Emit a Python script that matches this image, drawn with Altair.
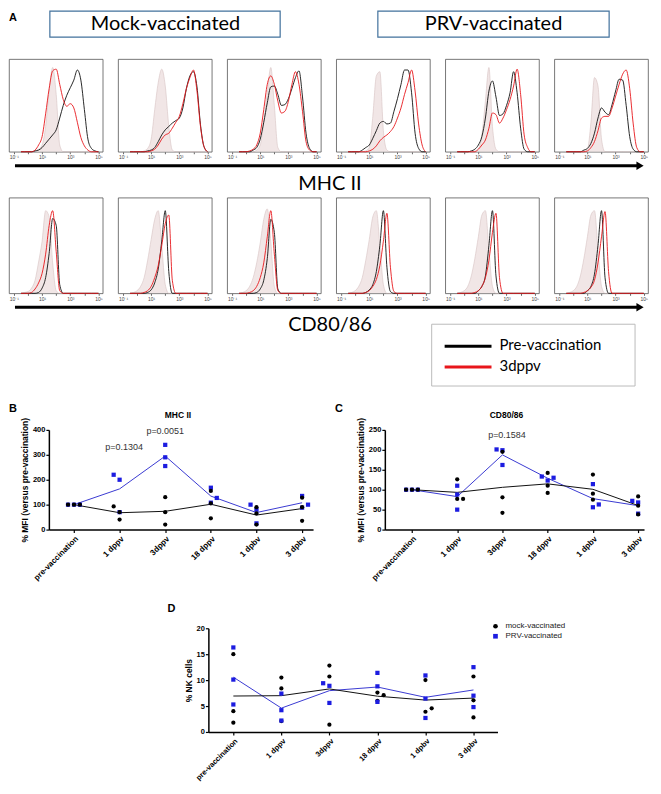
import altair as alt
import pandas as pd

# ---------------- histogram data (log10 fluorescence grid, % of max) ----------------
GRID = [-0.5, -0.25, 0.0, 0.25, 0.5, 0.75, 1.0, 1.25, 1.5, 1.75, 2.0, 2.25,
        2.5, 2.75, 3.0, 3.25, 3.5, 3.75, 4.0, 4.25, 4.5, 4.75, 5.0]

MHC_ISO = [
    [0, 0, 0, 0, 1, 3, 8, 30, 72, 100, 68, 8, 0, 0, 0, 0, 0, 0, 0, 0, 0, 0, 0],
    [0, 0, 0, 0, 1, 4, 15, 50, 82, 98, 78, 30, 2, 0, 0, 0, 0, 0, 0, 0, 0, 0, 0],
    [0, 0, 0, 0, 0, 2, 8, 35, 70, 100, 55, 5, 0, 0, 0, 0, 0, 0, 0, 0, 0, 0, 0],
    [0, 0, 0, 0, 0, 1, 5, 42, 90, 95, 25, 2, 0, 0, 0, 0, 0, 0, 0, 0, 0, 0, 0],
    [0, 0, 0, 0, 0, 1, 3, 20, 60, 100, 30, 3, 0, 0, 0, 0, 0, 0, 0, 0, 0, 0, 0],
    [0, 0, 0, 0, 0, 1, 3, 35, 88, 78, 15, 0, 0, 0, 0, 0, 0, 0, 0, 0, 0, 0, 0],
]
MHC_PRE = [
    [0, 0, 0, 0, 1, 2, 5, 10, 15, 20, 26, 40, 55, 67, 76, 85, 97, 85, 50, 15, 4, 1, 0],
    [0, 0, 0, 0, 0, 1, 2, 5, 12, 20, 26, 30, 34, 37, 40, 52, 75, 90, 95, 77, 32, 6, 0],
    [0, 0, 0, 0, 2, 5, 15, 35, 58, 77, 78, 68, 55, 56, 63, 75, 88, 96, 65, 22, 4, 0, 0],
    [0, 0, 0, 0, 2, 5, 8, 16, 25, 34, 36, 33, 34, 48, 63, 80, 97, 97, 70, 22, 4, 0, 0],
    [0, 0, 0, 0, 1, 3, 8, 18, 40, 72, 84, 65, 43, 45, 55, 70, 95, 70, 28, 3, 0, 0, 0],
    [0, 0, 0, 0, 0, 2, 4, 10, 22, 40, 52, 47, 44, 56, 72, 86, 85, 55, 18, 3, 0, 0, 0],
]
MHC_3D = [
    [0, 0, 0, 0, 2, 8, 18, 45, 75, 96, 98, 80, 62, 54, 57, 52, 35, 17, 7, 2, 0, 0, 0],
    [0, 0, 0, 0, 0, 0, 1, 3, 8, 15, 20, 22, 28, 35, 42, 57, 75, 88, 97, 72, 30, 6, 0],
    [0, 0, 0, 1, 3, 8, 22, 50, 80, 90, 80, 60, 46, 48, 60, 80, 95, 80, 48, 12, 2, 0, 0],
    [0, 0, 0, 0, 0, 0, 1, 3, 7, 13, 17, 20, 24, 30, 40, 52, 68, 82, 97, 72, 33, 8, 0],
    [0, 0, 0, 0, 0, 0, 3, 8, 14, 28, 46, 44, 34, 40, 50, 62, 78, 98, 68, 20, 5, 0, 0],
    [0, 0, 0, 0, 0, 0, 1, 5, 12, 25, 40, 42, 42, 52, 66, 80, 92, 97, 75, 33, 5, 0, 0],
]
CD_ISO = [
    [0, 1, 2, 6, 15, 36, 60, 95, 88, 35, 3, 0, 0, 0, 0, 0, 0, 0, 0, 0, 0, 0, 0],
    [0, 1, 3, 8, 18, 38, 62, 85, 95, 55, 10, 0, 0, 0, 0, 0, 0, 0, 0, 0, 0, 0, 0],
    [0, 1, 3, 8, 18, 35, 58, 85, 97, 60, 8, 0, 0, 0, 0, 0, 0, 0, 0, 0, 0, 0, 0],
    [0, 1, 3, 8, 18, 38, 62, 88, 95, 55, 10, 0, 0, 0, 0, 0, 0, 0, 0, 0, 0, 0, 0],
    [0, 1, 3, 8, 20, 40, 65, 90, 95, 50, 8, 0, 0, 0, 0, 0, 0, 0, 0, 0, 0, 0, 0],
    [0, 1, 3, 8, 20, 40, 65, 90, 95, 50, 8, 0, 0, 0, 0, 0, 0, 0, 0, 0, 0, 0, 0],
]
CD_PRE = [
    [0, 0, 0, 0, 0, 1, 6, 18, 46, 86, 78, 10, 0, 0, 0, 0, 0, 0, 0, 0, 0, 0, 0],
    [0, 0, 0, 0, 0, 1, 4, 12, 28, 60, 95, 25, 0, 0, 0, 0, 0, 0, 0, 0, 0, 0, 0],
    [0, 0, 0, 0, 0, 1, 5, 15, 40, 85, 70, 5, 0, 0, 0, 0, 0, 0, 0, 0, 0, 0, 0],
    [0, 0, 0, 0, 0, 1, 4, 10, 25, 55, 95, 30, 2, 0, 0, 0, 0, 0, 0, 0, 0, 0, 0],
    [0, 0, 0, 0, 0, 0, 3, 8, 20, 55, 95, 20, 0, 0, 0, 0, 0, 0, 0, 0, 0, 0, 0],
    [0, 0, 0, 0, 0, 0, 3, 8, 22, 55, 95, 18, 0, 0, 0, 0, 0, 0, 0, 0, 0, 0, 0],
]
CD_3D = [
    [0, 0, 0, 1, 5, 12, 23, 45, 78, 95, 48, 3, 0, 0, 0, 0, 0, 0, 0, 0, 0, 0, 0],
    [0, 0, 0, 0, 1, 3, 8, 18, 32, 55, 80, 90, 15, 0, 0, 0, 0, 0, 0, 0, 0, 0, 0],
    [0, 0, 0, 1, 3, 8, 18, 35, 65, 95, 45, 3, 0, 0, 0, 0, 0, 0, 0, 0, 0, 0, 0],
    [0, 0, 0, 0, 0, 1, 3, 8, 16, 32, 60, 92, 30, 2, 0, 0, 0, 0, 0, 0, 0, 0, 0],
    [0, 0, 0, 0, 0, 1, 3, 8, 18, 38, 70, 92, 18, 0, 0, 0, 0, 0, 0, 0, 0, 0, 0],
    [0, 0, 0, 0, 0, 1, 3, 7, 15, 35, 65, 94, 25, 0, 0, 0, 0, 0, 0, 0, 0, 0, 0],
]
HIST_GROUPS = ["Pre-vaccination", "3dppv"]
DECADE_TICKS = [-1, 0, 1, 2, 3, 4, 5]

# ---------------- scatter data (B, C, D) ----------------
CATS = ["pre-vaccination", "1 dppv", "3dppv", "18 dppv", "1 dpbv", "3 dpbv"]
GROUPS = ["mock-vaccinated", "PRV-vaccinated"]

B_MOCK = [[100, 100, 100], [93, 70, 40], [130, 70, 20], [155, 105, 45], [90, 65, 20], [128, 90, 35]]
B_MOCK_OFF = [[-1, 0, 1], [-1, 0, 0], [0, 0, 0], [0, 0, 0], [0, 0, 0], [0, 0, 0]]
B_PRV = [[100, 100, 100], [220, 200, 70], [340, 290, 255], [168, 127, 108], [100, 80, 25], [135, 100, 88]]
B_PRV_OFF = [[-1, 0, 1], [-1, 0, 0], [0, 0, 0], [0, 1, 0], [-1, 0, 0], [0, 1, 0]]
B_P_CAT = [1.1, 2.0]
B_P_VAL = [331, 397]
B_P_TXT = ["p=0.1304", "p=0.0051"]

C_MOCK = [[100, 100, 100], [126, 77, 77], [195, 81, 42], [142, 110, 92], [138, 90, 75], [83, 60, 38]]
C_MOCK_OFF = [[-1, 0, 1], [0, 0, 1], [0, 0, 0], [0, 0, 0], [0, 0, 0], [0, 0, 0]]
C_PRV = [[100, 100, 100], [110, 88, 50], [201, 199, 162], [133, 123, 130], [114, 56, 63], [72, 68, 40]]
C_PRV_OFF = [[-1, 0, 1], [0, 0, 0], [-1, 0, 0], [-1, 0, 1], [0, 0, 1], [-1, 0, 0]]
C_P_CAT = [2.1]
C_P_VAL = [237]
C_P_TXT = ["p=0.1584"]

D_MOCK = [[15, 4, 1.8], [10.5, 8.4, 2.1], [12.8, 10.7, 1.4], [7.6, 7.1, 6.0], [10.0, 3.9, 4.55], [10.7, 6.1, 2.8]]
D_MOCK_OFF = [[0, 0, 0], [0, 0, 0], [0, 0, 0], [0, 1, 0], [0, 0, 1], [0, 0, 0]]
D_PRV = [[16.3, 10.1, 5.3], [7.4, 4.2, 2.2], [9.4, 8.9, 5.6], [11.4, 8.8, 5.8], [10.9, 6.45, 2.7], [12.5, 7.0, 4.8]]
D_PRV_OFF = [[0, 0, 0], [0, 0, 0], [-1, 0, 0], [0, 0, 0], [0, 0, 0], [0, 0, 0]]

FONT = "Liberation Sans"
BIG = "Lato"
ONE = pd.DataFrame({"a": [0]})
BLACK = "#111111"
RED = "#e8161b"
BLUE_PT = "#1c1ce0"
BLUE_LN = "#3a3ad2"


# ---------------- histogram panels ----------------
def hist_panel(iso, pre, d3, h):
    df_iso = pd.DataFrame({"L": GRID, "v": iso})
    df_pre = pd.DataFrame({"L": GRID, "v": pre})
    df_3d = pd.DataFrame({"L": GRID, "v": d3})
    xenc = alt.X("L:Q", scale=alt.Scale(domain=[-1.35, 5.3], nice=False, zero=False),
                 axis=alt.Axis(values=DECADE_TICKS,
                               labelExpr="datum.value==-1?'10⁻¹':datum.value==1?'10¹':datum.value==3?'10³':datum.value==5?'10⁵':''",
                               labelFontSize=5, labelColor="#444", tickSize=2, tickColor="#666",
                               domain=False, labelPadding=1, title=None, grid=False, labelFlush=False))
    yenc = alt.Y("v:Q", scale=alt.Scale(domain=[0, 110], nice=False), axis=None)
    area = alt.Chart(df_iso).mark_area(
        color="#ebdcdc", interpolate="monotone",
        line={"color": "#d6c3c3", "strokeWidth": 0.6}).encode(x=xenc, y=yenc)
    l_pre = alt.Chart(df_pre).mark_line(color=BLACK, strokeWidth=0.9, interpolate="monotone").encode(x=xenc, y=yenc)
    l_3d = alt.Chart(df_3d).mark_line(color=RED, strokeWidth=0.9, interpolate="monotone").encode(x=xenc, y=yenc)
    return alt.layer(area, l_pre, l_3d).properties(
        width=94, height=h, view=alt.ViewBackground(stroke="#555555", strokeWidth=0.8))


def hist_row(isos, pres, d3s, h):
    return alt.concat(*[hist_panel(isos[i], pres[i], d3s[i], h) for i in range(6)],
                      columns=6, spacing=15.4, bounds="flush")


# ---------------- annotation rows ----------------
def header_row(h):
    txt = dict(font=BIG, fontSize=20, color="black", align="center", baseline="middle")
    a = alt.Chart(ONE).mark_text(text="A", font=FONT, fontSize=11, fontWeight="bold", align="left",
                                 baseline="middle").encode(x=alt.value(0), y=alt.value(8))
    box1 = alt.Chart(ONE).mark_rect(fill="white", stroke="#41719c", strokeWidth=1.2).encode(
        x=alt.value(41), x2=alt.value(272), y=alt.value(1), y2=alt.value(27))
    t1 = alt.Chart(ONE).mark_text(text="Mock-vaccinated", **txt).encode(x=alt.value(157), y=alt.value(14))
    box2 = alt.Chart(ONE).mark_rect(fill="white", stroke="#41719c", strokeWidth=1.2).encode(
        x=alt.value(370), x2=alt.value(602), y=alt.value(1), y2=alt.value(27))
    t2 = alt.Chart(ONE).mark_text(text="PRV-vaccinated", **txt).encode(x=alt.value(486), y=alt.value(14))
    return alt.layer(a, box1, t1, box2, t2).properties(width=645, height=h)


def arrow_layers(label, h, ya, yt, with_legend=False, yl=0):
    rule = alt.Chart(ONE).mark_rule(color="black", strokeWidth=3).encode(
        x=alt.value(6), x2=alt.value(630), y=alt.value(ya))
    head = alt.Chart(ONE).mark_point(shape="triangle-right", filled=True, color="black", size=70, opacity=1).encode(
        x=alt.value(633), y=alt.value(ya))
    t = alt.Chart(ONE).mark_text(text=label, font=BIG, fontSize=20, color="black", align="center",
                                 baseline="middle").encode(x=alt.value(322), y=alt.value(yt))
    layers = [rule, head, t]
    if with_legend:
        box = alt.Chart(ONE).mark_rect(fill="white", stroke="#bbbbbb", strokeWidth=1).encode(
            x=alt.value(424), x2=alt.value(628), y=alt.value(yl), y2=alt.value(yl + 62))
        l1 = alt.Chart(ONE).mark_rule(color="black", strokeWidth=3).encode(
            x=alt.value(437), x2=alt.value(484), y=alt.value(yl + 22))
        l2 = alt.Chart(ONE).mark_rule(color=RED, strokeWidth=3).encode(
            x=alt.value(437), x2=alt.value(484), y=alt.value(yl + 43))
        tx = dict(font=BIG, fontSize=15, color="black", align="left", baseline="middle")
        s1 = alt.Chart(ONE).mark_text(text=HIST_GROUPS[0], **tx).encode(x=alt.value(492), y=alt.value(yl + 21))
        s2 = alt.Chart(ONE).mark_text(text=HIST_GROUPS[1], **tx).encode(x=alt.value(492), y=alt.value(yl + 42))
        layers += [box, l1, l2, s1, s2]
    return alt.layer(*layers).properties(width=645, height=h)


def spacer(w, h):
    return alt.Chart(ONE).mark_rect(opacity=0).encode(
        x=alt.value(1), x2=alt.value(1), y=alt.value(1), y2=alt.value(1)).properties(width=w, height=h)


# ---------------- scatter panels ----------------
LABEL_EXPR = "[" + ",".join("'" + c + "'" for c in CATS) + "][datum.value]"


def scatter_panel(mock, mock_off, prv, prv_off, ymax, ystep, ytitle, w, h, xdom,
                  letter, lx, ly, title, tdx, p_cat, p_val, p_txt, legend, xfs=8):
    rows = []
    for ci in range(len(CATS)):
        for k in range(len(prv[ci])):
            rows.append(dict(ci=ci, off=prv_off[ci][k], v=prv[ci][k], grp=GROUPS[1]))
    for ci in range(len(CATS)):
        for k in range(len(mock[ci])):
            rows.append(dict(ci=ci, off=mock_off[ci][k], v=mock[ci][k], grp=GROUPS[0]))
    df = pd.DataFrame(rows)
    xs = alt.Scale(domain=xdom, nice=False, zero=False)
    xaxis = alt.Axis(values=list(range(len(CATS))), labelExpr=LABEL_EXPR, labelAngle=315,
                     labelFontSize=xfs, labelFontWeight="bold", labelColor="black",
                     tickSize=3, tickWidth=1.2, tickColor="black", domainColor="black", domainWidth=1.5,
                     title=None, grid=False, labelPadding=2, labelFlush=False)
    ys = alt.Scale(domain=[0, ymax], nice=False)
    yaxis = alt.Axis(values=list(range(0, ymax + 1, ystep)), title=ytitle, titleFontSize=8.5,
                     titleFontWeight="bold", titleColor="black", labelFontSize=7.5,
                     labelFontWeight="bold", labelColor="black", tickSize=3, tickWidth=1.2,
                     tickColor="black", domainColor="black", domainWidth=1.5, grid=False,
                     labelPadding=1, titlePadding=3)
    X = alt.X("xpos:Q", scale=xs, axis=xaxis)
    Y = alt.Y("v:Q", scale=ys, axis=yaxis)
    base = alt.Chart(df).transform_calculate(xpos="datum.ci + datum.off * 0.13")
    if legend:
        leg = alt.Legend(orient="none", legendX=w - 6, legendY=-6, title=None, labelFont=FONT,
                         labelFontSize=8, labelColor="#222", symbolSize=22, rowPadding=2, labelOffset=6)
        pts = [base.mark_point(filled=True, size=18, opacity=1).encode(
            x=X, y=Y,
            color=alt.Color("grp:N", scale=alt.Scale(domain=GROUPS, range=["#000000", BLUE_PT]), legend=leg),
            shape=alt.Shape("grp:N", scale=alt.Scale(domain=GROUPS, range=["circle", "square"]), legend=leg),
            order=alt.Order("grp:N", sort="descending"))]
    else:
        pts = [
            base.transform_filter(alt.datum.grp == GROUPS[1]).mark_point(
                filled=True, size=18, opacity=1, shape="square", color=BLUE_PT).encode(x=X, y=Y),
            base.transform_filter(alt.datum.grp == GROUPS[0]).mark_point(
                filled=True, size=18, opacity=1, shape="circle", color="#000000").encode(x=X, y=Y),
        ]
    Xc = alt.X("ci:Q", scale=xs, axis=xaxis)
    Ym = alt.Y("mean(v):Q", scale=ys, axis=yaxis)
    ml = alt.Chart(df).transform_filter(alt.datum.grp == GROUPS[0]).mark_line(
        color=BLACK, strokeWidth=1).encode(x=Xc, y=Ym)
    pl = alt.Chart(df).transform_filter(alt.datum.grp == GROUPS[1]).mark_line(
        color=BLUE_LN, strokeWidth=1).encode(x=Xc, y=Ym)
    layers = [pl, ml] + pts
    if p_txt:
        pdf = pd.DataFrame({"ci": p_cat, "v": p_val, "t": p_txt})
        layers.append(alt.Chart(pdf).mark_text(font=FONT, fontSize=9, color="#333333").encode(
            x=Xc, y=Y, text="t:N"))
    layers.append(alt.Chart(ONE).mark_text(text=letter, font=FONT, fontSize=11, fontWeight="bold",
                                           align="left", baseline="middle").encode(
        x=alt.value(lx), y=alt.value(ly)))
    if title:
        layers.append(alt.Chart(ONE).mark_text(text=title, font=FONT, fontSize=8.5, fontWeight="bold",
                                               align="center", baseline="middle", color="black").encode(
            x=alt.value(w / 2 + tdx), y=alt.value(-15)))
    return alt.layer(*layers).properties(width=w, height=h)


B = scatter_panel(B_MOCK, B_MOCK_OFF, B_PRV, B_PRV_OFF, 400, 100, "% MFI (versus pre-vaccination)",
                  265, 100, [-0.55, 5.24], "B", -40, -21, "MHC II", -3, B_P_CAT, B_P_VAL, B_P_TXT, False)
C = scatter_panel(C_MOCK, C_MOCK_OFF, C_PRV, C_PRV_OFF, 250, 50, "% MFI (versus pre-vaccination)",
                  260, 100, [-0.6, 5.13], "C", -50, -21, "CD80/86", -8, C_P_CAT, C_P_VAL, C_P_TXT, False)
D = scatter_panel(D_MOCK, D_MOCK_OFF, D_PRV, D_PRV_OFF, 20, 5, "% NK cells",
                  290, 104, [-0.52, 5.5], "D", -41, -19, None, 0, [], [], [], True, xfs=7.5)

# grids with a top spacer row, so no content sits above / left of each grid's origin
row_bc = alt.concat(spacer(40, 27), spacer(265, 27), spacer(72, 27), spacer(260, 27),
                    spacer(40, 100), B, spacer(72, 100), C,
                    columns=4, spacing=0, bounds="flush")
row_d = alt.concat(spacer(200, 25), spacer(290, 25), spacer(200, 104), D,
                   columns=2, spacing=0, bounds="flush").resolve_scale(
    color="independent", shape="independent")

chart = alt.concat(
    header_row(47),
    hist_row(MHC_ISO, MHC_PRE, MHC_3D, 93),
    arrow_layers("MHC II", 34, 4, 22),
    hist_row(CD_ISO, CD_PRE, CD_3D, 96),
    arrow_layers("CD80/86", 97, 3, 21, with_legend=True, yl=20),
    row_bc,
    spacer(10, 18),
    row_d,
    columns=1, spacing=0, padding=0,
).resolve_scale(color="independent", shape="independent").configure(font=FONT).configure_view(stroke="transparent")

chart.save("out.html", embed_options={"renderer": "svg", "actions": False})
